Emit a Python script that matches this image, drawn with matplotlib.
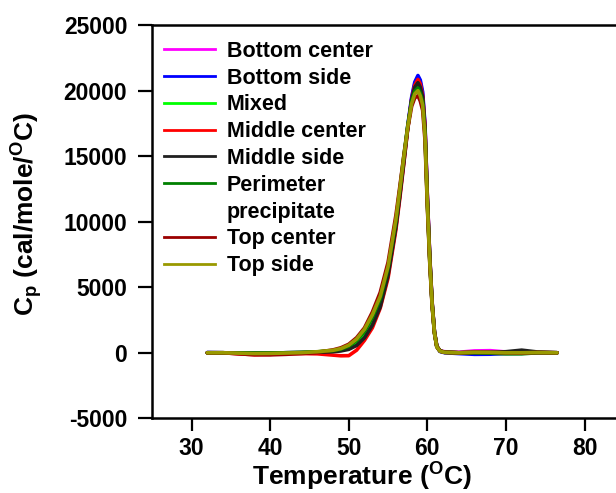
import numpy as np
import matplotlib
matplotlib.use("Agg")
import matplotlib.pyplot as plt
from matplotlib.lines import Line2D

plt.rcParams['font.family'] = ['Liberation Sans', 'DejaVu Sans']
plt.rcParams['font.weight'] = 'bold'
plt.rcParams['mathtext.fontset'] = 'custom'
plt.rcParams['mathtext.rm'] = 'Liberation Sans:bold'
plt.rcParams['mathtext.bf'] = 'Liberation Sans:bold'
plt.rcParams['mathtext.it'] = 'Liberation Sans:bold'
plt.rcParams['mathtext.default'] = 'bf'
plt.rcParams['axes.unicode_minus'] = False

# Temperature grid (deg C) shared by all DSC scans
temperature = [32, 34, 36, 38, 40, 42, 44, 46, 48, 49, 50, 51, 52, 53, 54, 55, 56, 56.5, 57, 57.5,
               58, 58.4, 58.8, 59.1, 59.4, 59.7, 60.0, 60.3, 60.6, 60.9, 61.2, 61.6, 62.2, 64, 66, 68,
               70, 72, 74, 76.5]

# Cp values (cal/mole/oC)
bottom_center = [0, 0, -20, -30, -10, 0, 20, 40, 120, 200, 380, 760, 1380, 2300, 3700, 6100, 9700, 12100,
                 14600, 17200, 19400, 20500, 20950, 20600, 19700, 17200, 11800, 7300, 3800, 1600, 500, 150,
                 80, 40, 140, 160, 60, 0, 30, 0]
bottom_side = [20, 0, -20, -30, -20, 0, 10, 40, 110, 190, 370, 740, 1350, 2300, 3700, 6100, 9700, 12100,
               14700, 17300, 19500, 20650, 21150, 20800, 19900, 17400, 11900, 7400, 3900, 1600, 500, 100,
               0, -60, -120, -110, -50, -40, 0, 0]
mixed = [0, 0, -20, -30, -20, 0, 20, 60, 150, 250, 450, 850, 1500, 2500, 3900, 6300, 9900, 12300, 14800,
         17200, 19200, 20100, 20400, 20000, 19300, 16800, 11500, 7200, 3800, 1600, 500, 150, 50, 0, 30,
         20, 0, -30, 20, 0]
middle_center = [0, 0, -80, -150, -120, -60, -60, -80, -180, -230, -220, 200, 950, 1900, 3400, 5700, 9400,
                 11800, 14400, 17100, 19300, 20400, 20850, 20500, 19600, 17200, 11900, 7400, 3900, 1600,
                 500, 150, 40, 0, 20, 0, -20, -20, 10, 0]
middle_side = [0, 0, -20, -30, -20, 0, 10, 30, 80, 140, 260, 560, 1150, 2100, 3500, 5900, 9600, 12000,
               14500, 17100, 19300, 20250, 20600, 20250, 19500, 17000, 11700, 7300, 3800, 1600, 500, 150,
               40, 0, 30, 40, 80, 200, 60, 0]
perimeter = [0, 0, -20, -30, -20, 0, 20, 70, 170, 280, 500, 950, 1650, 2700, 4100, 6500, 10100, 12500,
             15000, 17300, 19200, 19950, 20200, 19800, 19100, 16700, 11400, 7100, 3700, 1500, 450, 120,
             30, 0, 0, -30, -80, -80, 0, 0]
top_center = [0, 0, -80, -150, -160, -120, -60, 40, 220, 380, 650, 1150, 1900, 3100, 4600, 6900, 10500,
              12700, 15000, 17100, 18800, 19450, 19600, 19200, 18500, 16200, 11100, 6900, 3600, 1500, 450,
              120, 30, 0, 40, 30, 0, -20, 20, 0]
top_side = [0, 0, -30, -60, -50, -20, 10, 80, 190, 320, 580, 1050, 1800, 2900, 4300, 6600, 10200, 12500,
            14900, 17200, 19000, 19750, 20000, 19600, 18900, 16500, 11300, 7000, 3700, 1500, 450, 120, 30,
            0, 40, 30, 0, 0, 20, 0]

series = [
    ('Bottom center', bottom_center, '#ff00ff'),
    ('Bottom side', bottom_side, '#0000ff'),
    ('Mixed', mixed, '#00ff00'),
    ('Middle center', middle_center, '#ff0000'),
    ('Middle side', middle_side, '#202020'),
    ('Perimeter', perimeter, '#008000'),
    ('Top center', top_center, '#9b0000'),
    ('Top side', top_side, '#999900'),
]

fig = plt.figure(figsize=(6.16, 4.93), dpi=100)
ax = fig.add_axes([0.2472, 0.1515, 0.7528, 0.7977])

handles = []
labels = []
for name, cp, color in series:
    ax.plot(temperature, cp, color=color, lw=2.6, solid_capstyle='round')
    handles.append(Line2D([], [], color=color, lw=2))
    labels.append(name)
    if name == 'Perimeter':
        # second line of the "Perimeter precipitate" label
        handles.append(Line2D([], [], color='none', lw=0))
        labels.append('precipitate')

ax.set_xlim(25, 84)
ax.set_ylim(-5000, 25000)
ax.set_xticks([30, 40, 50, 60, 70, 80])
ax.set_yticks([-5000, 0, 5000, 10000, 15000, 20000, 25000])

for side in ['left', 'bottom', 'top']:
    ax.spines[side].set_linewidth(1.8)
ax.spines['right'].set_visible(False)

ax.tick_params(axis='y', direction='out', length=10, width=1.6, pad=8, labelsize=16.5)
ax.tick_params(axis='x', direction='out', length=9.5, width=1.6, pad=4, labelsize=16.5)

ax.set_xlabel('Temperature ($^{O}$C)', fontsize=19, fontweight='bold')
ax.xaxis.set_label_coords(0.453, -0.108)
ax.set_ylabel('C$_{p}$ (cal/mole/$^{O}$C)', fontsize=19, fontweight='bold')
ax.yaxis.set_label_coords(-0.232, 0.52)

leg = ax.legend(handles, labels, loc='upper left', bbox_to_anchor=(0.026, 0.96), frameon=False,
                fontsize=15.5, handlelength=2.35, handletextpad=0.55, labelspacing=0.27,
                borderaxespad=0.0, borderpad=0.0)
for t in leg.get_texts():
    t.set_fontweight('bold')

fig.savefig('out.png', dpi=100)
